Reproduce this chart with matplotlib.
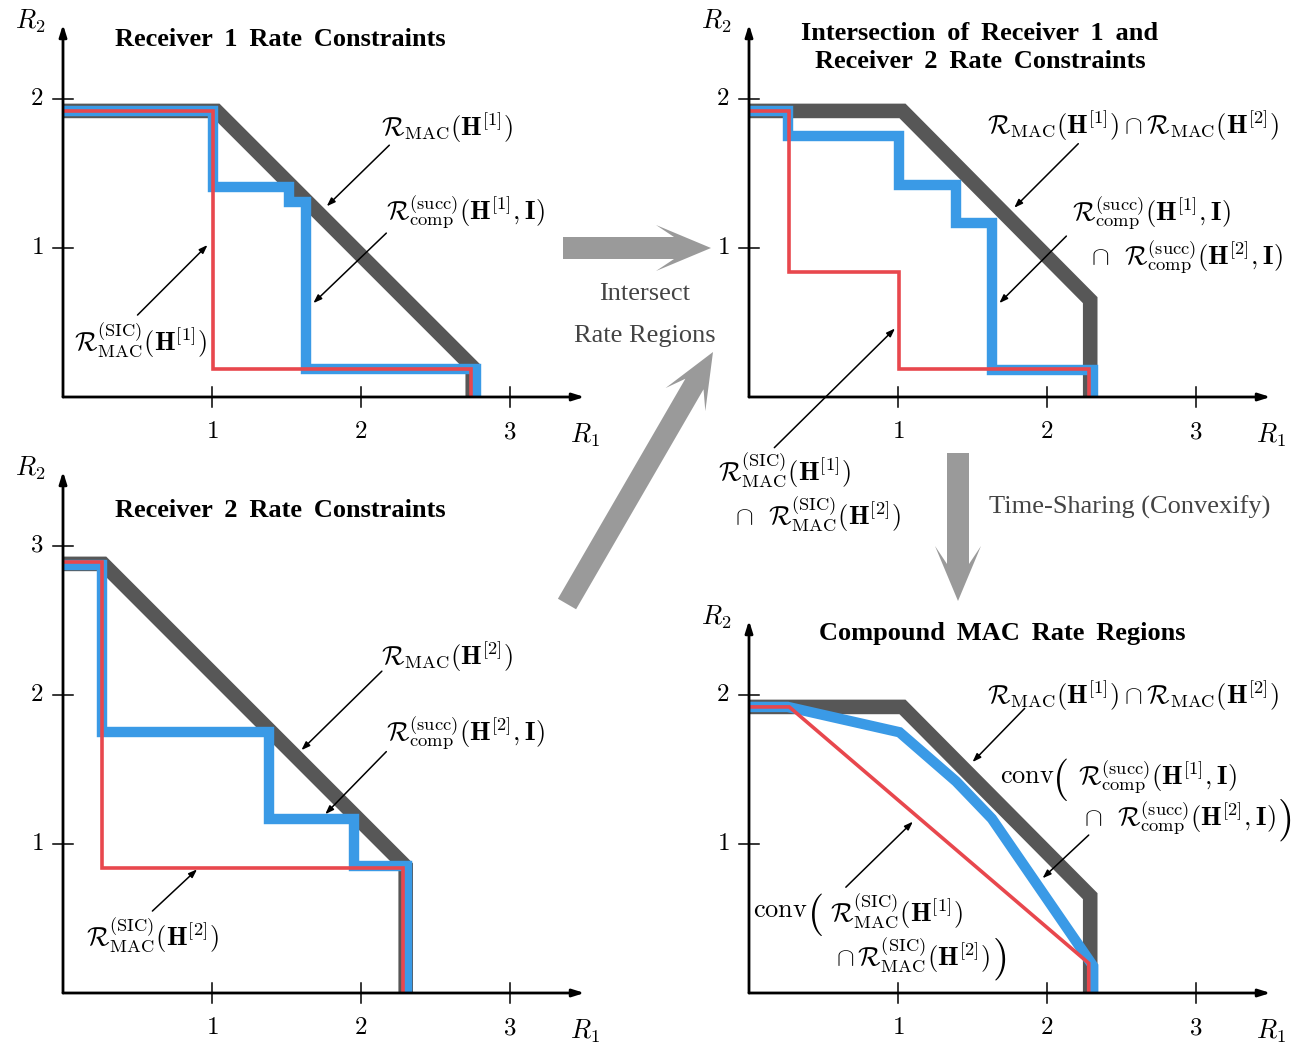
import numpy as np
import matplotlib.pyplot as plt
from matplotlib.patches import Polygon

plt.rcParams['font.family'] = ['Liberation Serif', 'DejaVu Serif']
plt.rcParams['mathtext.fontset'] = 'cm'

W, H = 1292, 1044
UNIT = 149  # pixels per unit of rate

GRAY = '#575757'
BLUE = '#3a9ae6'
RED = '#e8474d'
ARROW_GRAY = '#9a9a9a'
NOTE_GRAY = '#444444'

# Receiver 1 constraints
r1_mac_x = [0, 1.03, 2.75, 2.75]
r1_mac_y = [1.92, 1.92, 0.20, 0]
r1_comp_x = [0, 1.01, 1.01, 1.52, 1.52, 1.63, 1.63, 2.77, 2.77]
r1_comp_y = [1.92, 1.92, 1.41, 1.41, 1.31, 1.31, 0.19, 0.19, 0]
r1_sic_x = [0, 1.01, 1.01, 2.74, 2.74]
r1_sic_y = [1.92, 1.92, 0.19, 0.19, 0]

# Receiver 2 constraints
r2_mac_x = [0, 0.27, 2.30, 2.30]
r2_mac_y = [2.88, 2.88, 0.85, 0]
r2_comp_x = [0, 0.26, 0.26, 1.38, 1.38, 1.95, 1.95, 2.31, 2.31]
r2_comp_y = [2.87, 2.87, 1.75, 1.75, 1.17, 1.17, 0.85, 0.85, 0]
r2_sic_x = [0, 0.26, 0.26, 2.28, 2.28]
r2_sic_y = [2.89, 2.89, 0.84, 0.84, 0]

# Intersection of both receivers
int_mac_x = [0, 1.03, 2.29, 2.29]
int_mac_y = [1.92, 1.92, 0.65, 0]
int_comp_x = [0, 0.26, 0.26, 1.01, 1.01, 1.39, 1.39, 1.63, 1.63, 2.31, 2.31]
int_comp_y = [1.92, 1.92, 1.75, 1.75, 1.42, 1.42, 1.17, 1.17, 0.18, 0.18, 0]
int_sic_x = [0, 0.27, 0.27, 1.01, 1.01, 2.28, 2.28]
int_sic_y = [1.92, 1.92, 0.84, 0.84, 0.19, 0.19, 0]

# Time-shared (convex hull) regions
conv_mac_x = [0, 1.03, 2.29, 2.29]
conv_mac_y = [1.92, 1.92, 0.65, 0]
conv_comp_x = [0, 0.26, 1.01, 1.39, 1.63, 2.31, 2.31]
conv_comp_y = [1.92, 1.92, 1.75, 1.42, 1.17, 0.18, 0]
conv_sic_x = [0, 0.27, 2.28, 2.28]
conv_sic_y = [1.92, 1.92, 0.20, 0]

x_ticks = [1, 2, 3]
y_ticks_small = [1, 2]
y_ticks_large = [1, 2, 3]

MAC1 = r'$\mathcal{R}_{\mathrm{MAC}}(\mathbf{H}^{[1]})$'
MAC2 = r'$\mathcal{R}_{\mathrm{MAC}}(\mathbf{H}^{[2]})$'
MAC12 = r'$\mathcal{R}_{\mathrm{MAC}}(\mathbf{H}^{[1]})\cap\mathcal{R}_{\mathrm{MAC}}(\mathbf{H}^{[2]})$'
COMP1 = r'$\mathcal{R}_{\mathrm{comp}}^{(\mathrm{succ})}(\mathbf{H}^{[1]},\mathbf{I})$'
COMP2 = r'$\mathcal{R}_{\mathrm{comp}}^{(\mathrm{succ})}(\mathbf{H}^{[2]},\mathbf{I})$'
CAP_COMP2 = r'$\cap\ \ \mathcal{R}_{\mathrm{comp}}^{(\mathrm{succ})}(\mathbf{H}^{[2]},\mathbf{I})$'
SIC1 = r'$\mathcal{R}_{\mathrm{MAC}}^{(\mathrm{SIC})}(\mathbf{H}^{[1]})$'
SIC2 = r'$\mathcal{R}_{\mathrm{MAC}}^{(\mathrm{SIC})}(\mathbf{H}^{[2]})$'
CAP_SIC2 = r'$\cap\ \ \mathcal{R}_{\mathrm{MAC}}^{(\mathrm{SIC})}(\mathbf{H}^{[2]})$'
CAP_SIC2_TIGHT = r'$\cap\,\mathcal{R}_{\mathrm{MAC}}^{(\mathrm{SIC})}(\mathbf{H}^{[2]})$'

FS = 19


def spaced(s):
    # titles use slightly wider word gaps
    return s.replace(' ', ' \u2009')


fig = plt.figure(figsize=(W / 100, H / 100), dpi=100)

# full-figure layer in pixel units for the connecting arrows
overlay = fig.add_axes([0, 0, 1, 1])
overlay.set_xlim(0, W)
overlay.set_ylim(H, 0)
overlay.axis('off')


def make_panel(ox, oy, y_top, yticks):
    xlo, xhi = -0.45, 3.7
    ylo, yhi = -0.45, y_top + 0.2
    ax = fig.add_axes([(ox + xlo * UNIT) / W, (H - oy + ylo * UNIT) / H,
                       (xhi - xlo) * UNIT / W, (yhi - ylo) * UNIT / H])
    ax.set_xlim(xlo, xhi)
    ax.set_ylim(ylo, yhi)
    ax.axis('off')
    ax.patch.set_alpha(0)

    # coordinate axes with arrow heads
    ax.annotate('', xy=(3.5, 0), xytext=(0, 0),
                arrowprops=dict(arrowstyle='-|>,head_length=0.7,head_width=0.22',
                                lw=2.0, color='black', shrinkA=0, shrinkB=0),
                zorder=6)
    ax.annotate('', xy=(0, y_top), xytext=(0, 0),
                arrowprops=dict(arrowstyle='-|>,head_length=0.7,head_width=0.22',
                                lw=2.0, color='black', shrinkA=0, shrinkB=0),
                zorder=6)
    for t in x_ticks:
        ax.plot([t, t], [-0.07, 0.07], color='black', lw=1.1, clip_on=False, zorder=6)
        ax.text(t, -0.235, f'${t}$', ha='center', va='center', fontsize=FS - 1)
    for t in yticks:
        ax.plot([-0.07, 0.07], [t, t], color='black', lw=1.1, clip_on=False, zorder=6)
        ax.text(-0.175, t, f'${t}$', ha='center', va='center', fontsize=FS - 1)
    ax.text(3.5, -0.255, r'$R_1$', ha='center', va='center', fontsize=FS)
    ax.text(-0.22, y_top + 0.02, r'$R_2$', ha='center', va='center', fontsize=FS)
    return ax


def regions(ax, mac, comp, sic):
    ax.plot(*mac, color=GRAY, lw=10.5, solid_joinstyle='miter',
            solid_capstyle='butt', clip_on=False, zorder=2)
    ax.plot(*comp, color=BLUE, lw=7.5, solid_joinstyle='miter',
            solid_capstyle='butt', clip_on=False, zorder=3)
    ax.plot(*sic, color=RED, lw=2.6, solid_joinstyle='miter',
            solid_capstyle='butt', clip_on=False, zorder=4)


def label(ax, x, y, s, start=None, tip=None, size=FS):
    ax.text(x, y, s, ha='center', va='center', fontsize=size, zorder=7)
    if start is not None:
        ax.annotate('', xy=tip, xytext=start,
                    arrowprops=dict(arrowstyle='-|>,head_length=0.5,head_width=0.18',
                                    lw=1.1, color='black', shrinkA=0, shrinkB=0),
                    zorder=7)


def title(ax, x, y, s):
    ax.text(x, y, spaced(s), ha='center', va='center', fontsize=FS, fontweight='bold')


def block_arrow(tail, tip, shaft=22, head=46, neck=37, barb=55):
    p0 = np.array(tail, float)
    p1 = np.array(tip, float)
    d = (p1 - p0) / np.hypot(*(p1 - p0))
    n = np.array([-d[1], d[0]])
    pts = [p0 + n * shaft / 2, p1 - d * neck + n * shaft / 2, p1 - d * barb + n * head / 2,
           p1, p1 - d * barb - n * head / 2, p1 - d * neck - n * shaft / 2, p0 - n * shaft / 2]
    overlay.add_patch(Polygon(pts, closed=True, fc=ARROW_GRAY, ec='none'))


# Receiver 1
ax1 = make_panel(63, 397, 2.5, y_ticks_small)
regions(ax1, (r1_mac_x, r1_mac_y), (r1_comp_x, r1_comp_y), (r1_sic_x, r1_sic_y))
title(ax1, 1.46, 2.40, 'Receiver 1 Rate Constraints')
label(ax1, 2.58, 1.81, MAC1, (2.19, 1.69), (1.77, 1.28))
label(ax1, 2.70, 1.24, COMP1, (2.17, 1.10), (1.68, 0.63))
label(ax1, 0.52, 0.38, SIC1, (0.50, 0.55), (0.97, 1.02))

# Intersection
ax2 = make_panel(749, 397, 2.5, y_ticks_small)
regions(ax2, (int_mac_x, int_mac_y), (int_comp_x, int_comp_y), (int_sic_x, int_sic_y))
title(ax2, 1.55, 2.44, 'Intersection of Receiver 1 and')
title(ax2, 1.55, 2.25, 'Receiver 2 Rate Constraints')
label(ax2, 2.58, 1.82, MAC12, (2.21, 1.70), (1.78, 1.27))
label(ax2, 2.70, 1.23, COMP1)
label(ax2, 2.94, 0.94, CAP_COMP2, (2.13, 1.08), (1.68, 0.63))
label(ax2, 0.24, -0.49, SIC1)
label(ax2, 0.46, -0.79, CAP_SIC2, (0.17, -0.34), (0.98, 0.46))

# Receiver 2
ax3 = make_panel(63, 993, 3.5, y_ticks_large)
regions(ax3, (r2_mac_x, r2_mac_y), (r2_comp_x, r2_comp_y), (r2_sic_x, r2_sic_y))
title(ax3, 1.46, 3.24, 'Receiver 2 Rate Constraints')
label(ax3, 2.58, 2.26, MAC2, (2.14, 2.16), (1.60, 1.63))
label(ax3, 2.70, 1.74, COMP2, (2.17, 1.62), (1.76, 1.20))
label(ax3, 0.60, 0.39, SIC2, (0.60, 0.55), (0.90, 0.83))

# Compound region after time sharing
ax4 = make_panel(749, 993, 2.5, y_ticks_small)
regions(ax4, (conv_mac_x, conv_mac_y), (conv_comp_x, conv_comp_y), (conv_sic_x, conv_sic_y))
title(ax4, 1.70, 2.41, 'Compound MAC Rate Regions')
label(ax4, 2.58, 2.00, MAC12, (1.85, 1.91), (1.50, 1.55))
label(ax4, 1.87, 1.45, r'$\mathrm{conv}$')
label(ax4, 2.09, 1.43, r'$($', size=30)
label(ax4, 2.74, 1.45, COMP1)
label(ax4, 2.89, 1.17, CAP_COMP2, (2.28, 1.06), (1.97, 0.77))
label(ax4, 3.59, 1.16, r'$)$', size=30)
label(ax4, 0.21, 0.55, r'$\mathrm{conv}$')
label(ax4, 0.44, 0.53, r'$($', size=30)
label(ax4, 0.99, 0.55, SIC1, (0.65, 0.71), (1.10, 1.15))
label(ax4, 1.10, 0.25, CAP_SIC2_TIGHT)
label(ax4, 1.68, 0.23, r'$)$', size=30)

# connecting arrows and their notes
block_arrow((563, 248), (711, 248))
block_arrow((567, 604), (713, 352), shaft=21)
block_arrow((958, 453), (958, 601))
overlay.text(645, 294, 'Intersect', ha='center', va='center', fontsize=FS, color=NOTE_GRAY)
overlay.text(645, 336, 'Rate Regions', ha='center', va='center', fontsize=FS, color=NOTE_GRAY)
overlay.text(1130, 507, 'Time-Sharing (Convexify)', ha='center', va='center',
             fontsize=FS, color=NOTE_GRAY)

fig.savefig('out.png', dpi=100)
